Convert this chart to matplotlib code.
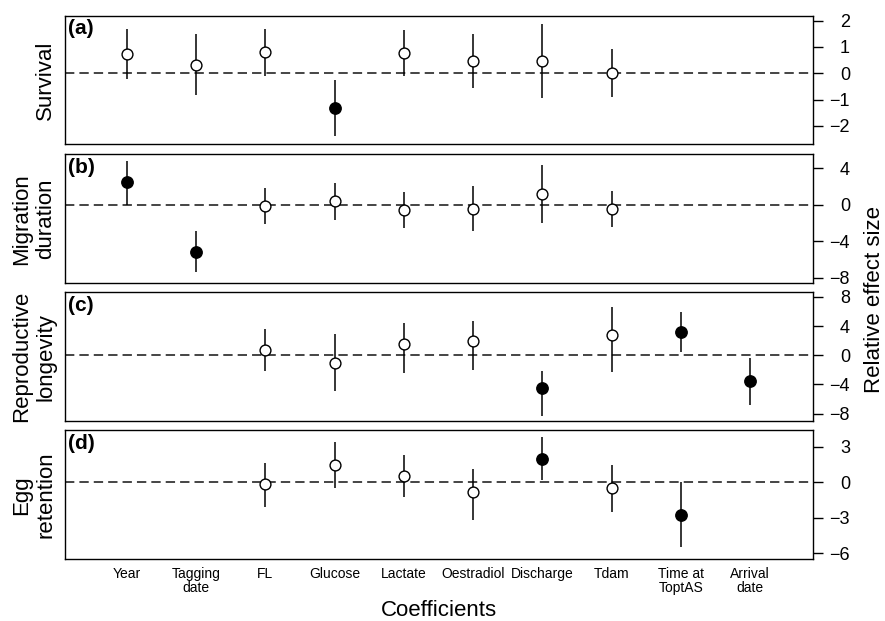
import numpy as np
import matplotlib
matplotlib.use("Agg")
import matplotlib.pyplot as plt
from matplotlib import font_manager

nan = np.nan

# coefficient names along the x axis
coefs = ['Year', 'Tagging\ndate', 'FL', 'Glucose', 'Lactate', 'Oestradiol',
         'Discharge', 'Tdam', 'Time at\nToptAS', 'Arrival\ndate']

# (a) survival
surv_est = [0.74, 0.32, 0.81, -1.31, 0.77, 0.47, 0.47, 0.0, nan, nan]
surv_lo = [-0.22, -0.83, -0.10, -2.37, -0.10, -0.55, -0.94, -0.90, nan, nan]
surv_hi = [1.69, 1.47, 1.69, -0.26, 1.64, 1.50, 1.88, 0.90, nan, nan]
surv_sig = [0, 0, 0, 1, 0, 0, 0, 0, 0, 0]

# (b) migration duration
mig_est = [2.44, -5.16, -0.18, 0.36, -0.62, -0.44, 1.20, -0.44, nan, nan]
mig_lo = [0.0, -7.4, -2.10, -1.64, -2.55, -2.90, -2.00, -2.47, nan, nan]
mig_hi = [4.80, -2.90, 1.80, 2.36, 1.38, 2.07, 4.36, 1.53, nan, nan]
mig_sig = [1, 1, 0, 0, 0, 0, 0, 0, 0, 0]

# (c) reproductive longevity
lon_est = [nan, nan, 0.69, -1.06, 1.60, 1.93, -4.46, 2.76, 3.13, -3.59]
lon_lo = [nan, nan, -2.16, -4.90, -2.44, -2.07, -8.28, -2.30, 0.46, -6.76]
lon_hi = [nan, nan, 3.54, 2.85, 4.37, 4.74, -2.20, 6.60, 5.90, -0.32]
lon_sig = [0, 0, 0, 0, 0, 0, 1, 0, 1, 1]

# (d) egg retention
egg_est = [nan, nan, -0.14, 1.44, 0.54, -0.87, 1.99, -0.46, -2.80, nan]
egg_lo = [nan, nan, -2.06, -0.49, -1.23, -3.17, 0.19, -2.53, -5.50, nan]
egg_hi = [nan, nan, 1.63, 3.40, 2.26, 1.14, 3.81, 1.44, 0.0, nan]
egg_sig = [0, 0, 0, 0, 0, 0, 1, 0, 1, 0]

panels = [
    ('(a)', 'Survival', surv_est, surv_lo, surv_hi, surv_sig, [-2, -1, 0, 1, 2], (-2.7, 2.18)),
    ('(b)', 'Migration\nduration', mig_est, mig_lo, mig_hi, mig_sig, [-8, -4, 0, 4], (-8.57, 5.49)),
    ('(c)', 'Reproductive\nlongevity', lon_est, lon_lo, lon_hi, lon_sig, [-8, -4, 0, 4, 8], (-9.0, 8.6)),
    ('(d)', 'Egg\nretention', egg_est, egg_lo, egg_hi, egg_sig, [-6, -3, 0, 3], (-6.49, 4.36)),
]

names = {f.name for f in font_manager.fontManager.ttflist}
plt.rcParams['font.family'] = ['Liberation Sans', 'DejaVu Sans']
narrow = 'Liberation Sans Narrow' if 'Liberation Sans Narrow' in names else 'Liberation Sans'

fig = plt.figure(figsize=(8.85, 6.21), dpi=100)
bottoms = [0.7676, 0.5443, 0.3221, 0.0998]
x = np.arange(1, len(coefs) + 1)

for i, (tag, ylab, est, lo, hi, sig, ticks, ylim) in enumerate(panels):
    ax = fig.add_axes([0.0731, bottoms[i], 0.845, 0.207])
    est = np.array(est); lo = np.array(lo); hi = np.array(hi); sig = np.array(sig, bool)
    ax.axhline(0, color='#444444', lw=1.4, dashes=(4.8, 2.6), zorder=1)
    ax.vlines(x, lo, hi, color='black', lw=1.1, zorder=2)
    ax.plot(x[~sig], est[~sig], 'o', ms=7.8, mfc='white', mec='black', mew=1.0, zorder=3)
    ax.plot(x[sig], est[sig], 'o', ms=8.2, mfc='black', mec='black', mew=1.0, zorder=3)
    ax.set_xlim(0.105, 10.9)
    ax.set_ylim(*ylim)
    ax.yaxis.tick_right()
    ax.set_yticks(ticks)
    ax.tick_params(axis='y', length=7, width=1, labelsize=13, pad=20)
    for lab in ax.get_yticklabels():
        lab.set_horizontalalignment('right')
    ax.set_ylabel(ylab, fontsize=16, labelpad=6, linespacing=1.2)
    for s in ax.spines.values():
        s.set_linewidth(1.0)
    ax.text(0.005, 0.975, tag, transform=ax.transAxes, ha='left', va='top',
            fontsize=15, fontweight='bold', family=narrow)
    if i < 3:
        ax.set_xticks([])
    else:
        ax.set_xticks(x)
        ax.set_xticklabels(coefs, fontsize=10, linespacing=0.95)
        ax.tick_params(axis='x', length=0, pad=6)

fig.text(0.4961, 1 - 610 / 621, 'Coefficients', ha='center', va='center', fontsize=16)
fig.text(874 / 885, 1 - 300 / 621, 'Relative effect size', ha='center', va='center',
         rotation=90, fontsize=16)

fig.savefig('out.png', dpi=100)
